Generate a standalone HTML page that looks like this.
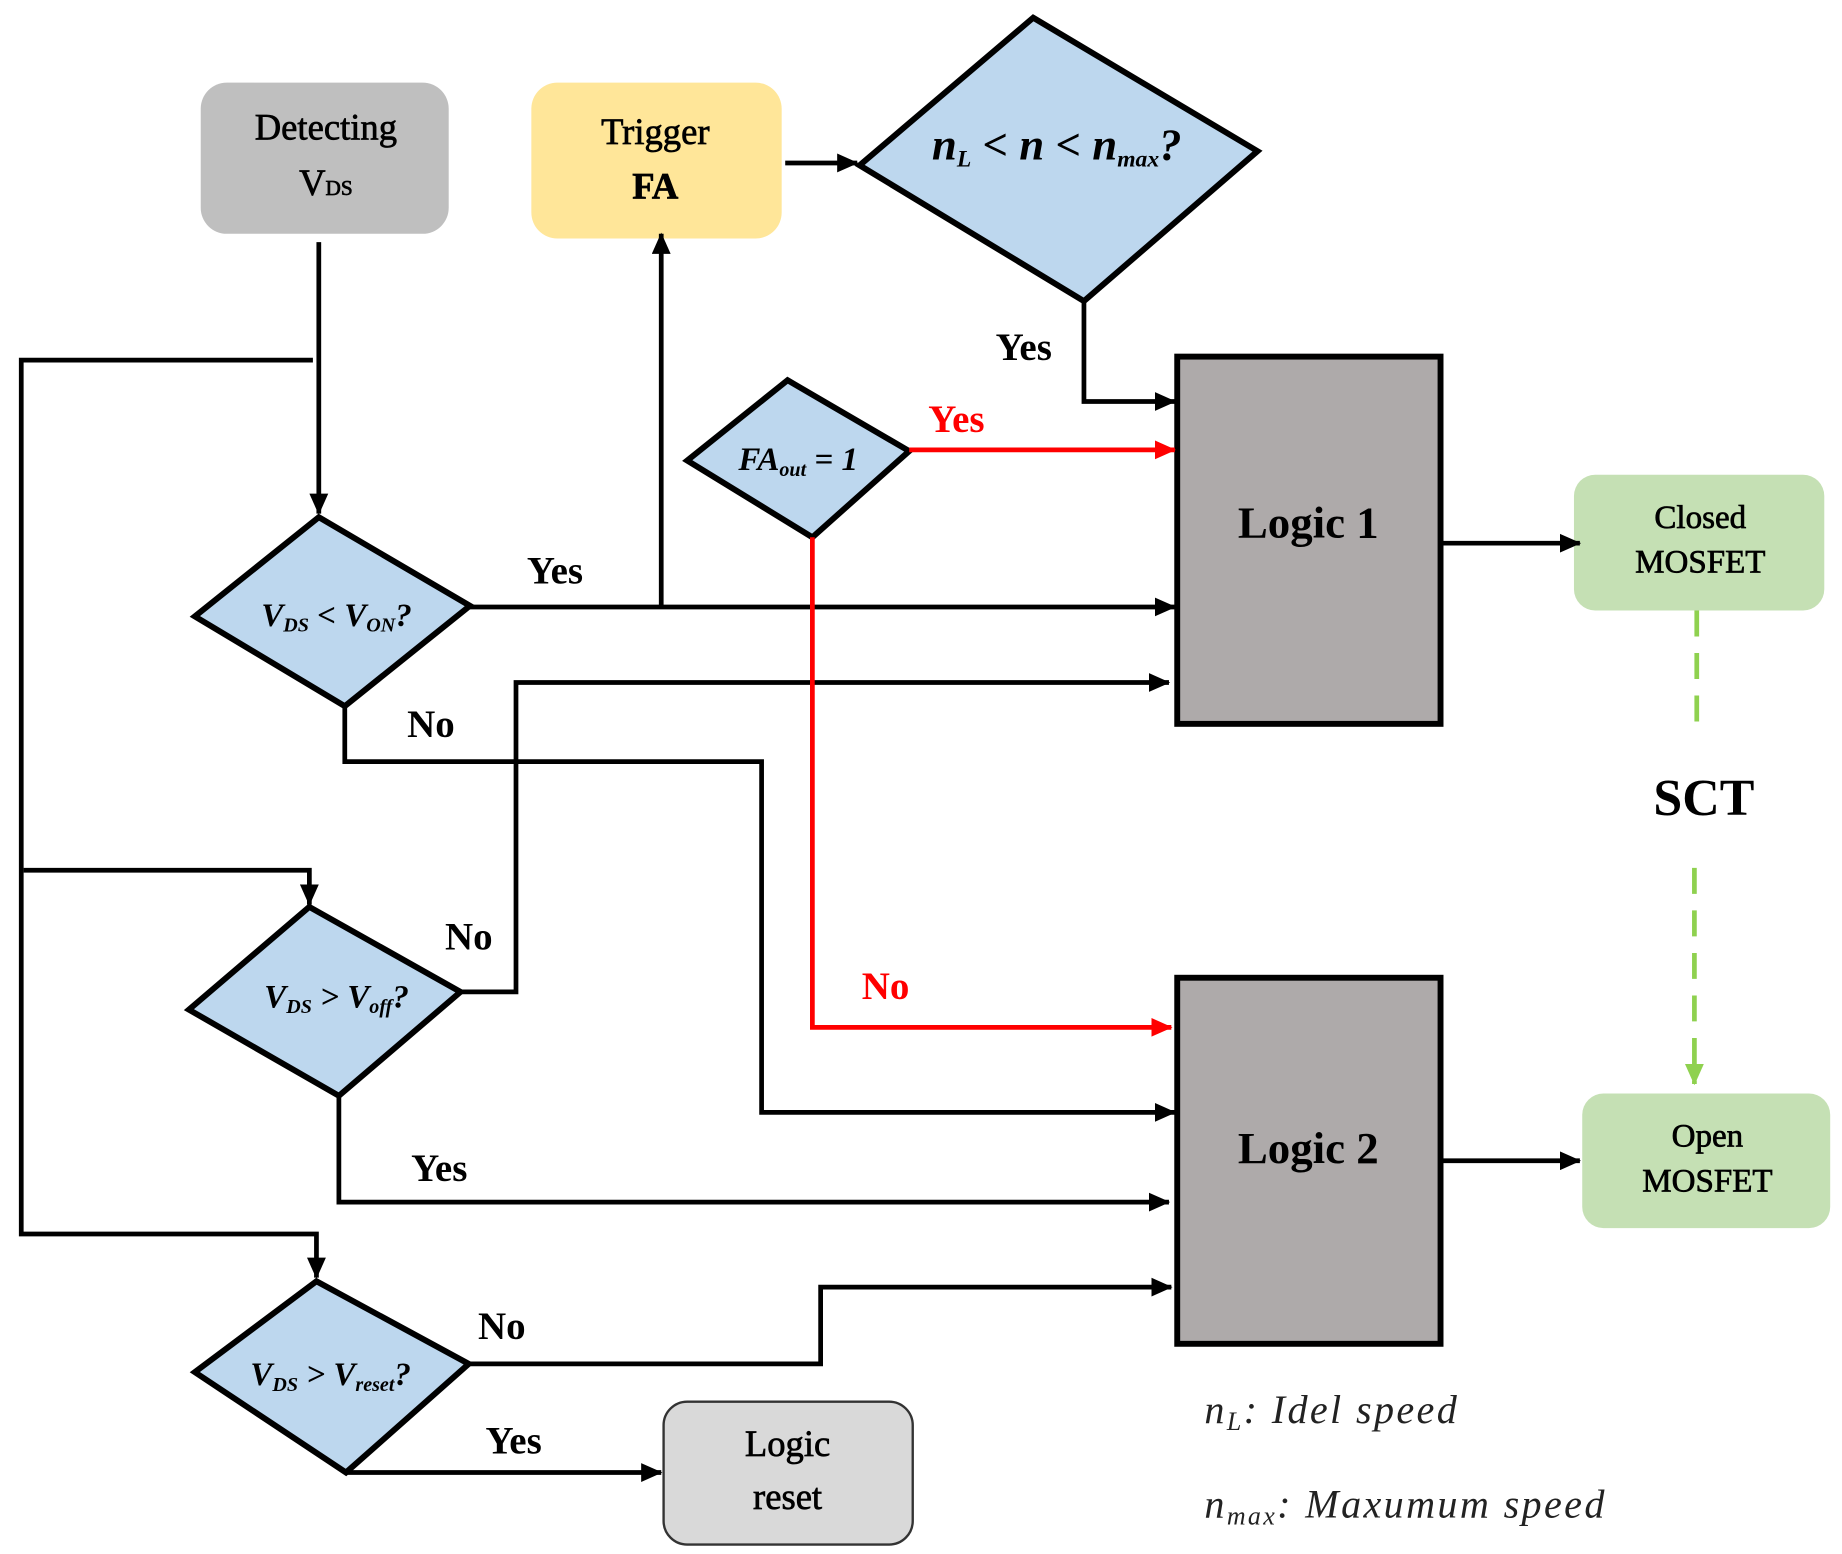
<!DOCTYPE html>
<html><head><style>html,body{margin:0;padding:0;background:#fff}svg{display:block}</style></head>
<body>
<svg width="1842" height="1554" viewBox="0 0 1560 1316" preserveAspectRatio="none" xmlns="http://www.w3.org/2000/svg" font-family="'Liberation Serif',serif">
<defs>
<marker id="ab" markerWidth="18" markerHeight="16" refX="17" refY="8" orient="auto" markerUnits="userSpaceOnUse"><path d="M0,0 L18,8 L0,16 z" fill="#000"/></marker>
<marker id="ar" markerWidth="18" markerHeight="16" refX="17" refY="8" orient="auto" markerUnits="userSpaceOnUse"><path d="M0,0 L18,8 L0,16 z" fill="#f00"/></marker>
<marker id="ag" markerWidth="18" markerHeight="16" refX="17" refY="8" orient="auto" markerUnits="userSpaceOnUse"><path d="M0,0 L18,8 L0,16 z" fill="#8fd14f"/></marker>
</defs>
<rect x="170" y="70" width="210" height="128" rx="22" fill="#bfbfbf"/>
<rect x="450" y="70" width="212" height="132" rx="22" fill="#ffe699"/>
<rect x="1333" y="402" width="212" height="115" rx="18" fill="#c5e0b4"/>
<rect x="1340" y="926" width="210" height="114" rx="18" fill="#c5e0b4"/>
<rect x="562" y="1187" width="211" height="121" rx="20" fill="#d9d9d9" stroke="#333" stroke-width="2"/>
<rect x="997" y="302" width="223" height="311" fill="#aeaaaa" stroke="#000" stroke-width="5"/>
<rect x="997" y="828" width="223" height="310" fill="#aeaaaa" stroke="#000" stroke-width="5"/>
<g fill="#bdd7ee" stroke="#000" stroke-width="5" stroke-linejoin="miter">
<polygon points="875,15 1065,128 918,255 728,140"/>
<polygon points="667,322 770,382 688,455 582,390"/>
<polygon points="270,438 398,513 292,598 165,522"/>
<polygon points="262,768 390,840 287,928 160,855"/>
<polygon points="268,1085 397,1155 293,1247 165,1162"/>
</g>
<g fill="none" stroke="#000" stroke-width="4">
<path d="M665,138 H726" marker-end="url(#ab)"/>
<path d="M918,255 V340 H995" marker-end="url(#ab)"/>
<path d="M1222,460 H1338" marker-end="url(#ab)"/>
<path d="M1222,983 H1338" marker-end="url(#ab)"/>
<path d="M270,205 V435" marker-end="url(#ab)"/>
<path d="M265,305 H18 V1045 H268 V1082" marker-end="url(#ab)"/>
<path d="M20,737 H262 V766" marker-end="url(#ab)"/>
<path d="M398,514 H995" marker-end="url(#ab)"/>
<path d="M560,514 V198" marker-end="url(#ab)"/>
<path d="M292,598 V645 H645 V942 H995" marker-end="url(#ab)"/>
<path d="M390,840 H437 V578 H990" marker-end="url(#ab)"/>
<path d="M287,928 V1018 H990" marker-end="url(#ab)"/>
<path d="M397,1155 H695 V1090 H992" marker-end="url(#ab)"/>
<path d="M293,1247 H560" marker-end="url(#ab)"/>
</g>
<g fill="none" stroke="#f00" stroke-width="4">
<path d="M770,381 H995" marker-end="url(#ar)"/>
<path d="M688,455 V870 H992" marker-end="url(#ar)"/>
</g>
<g fill="none" stroke="#8fd14f" stroke-width="4" stroke-dasharray="22,14">
<path d="M1437,517 V625"/>
<path d="M1435,735 V918" marker-end="url(#ag)"/>
</g>
<g text-anchor="middle" font-size="31" fill="#000" stroke="#000" stroke-width="0.6">
<text x="276" y="118">Detecting</text>
<text x="276" y="165">V<tspan font-size="18">DS</tspan></text>
<text x="555" y="122">Trigger</text>
<text x="555" y="168" font-weight="bold">FA</text>
<text x="1440" y="447" font-size="28">Closed</text>
<text x="1440" y="485" font-size="28">MOSFET</text>
<text x="1446" y="971" font-size="28">Open</text>
<text x="1446" y="1009" font-size="28">MOSFET</text>
<text x="667" y="1233">Logic</text>
<text x="667" y="1278">reset</text>
</g>
<g text-anchor="middle" font-weight="bold">
<text x="1108" y="455" font-size="38">Logic 1</text>
<text x="1108" y="985" font-size="38">Logic 2</text>
<text x="1443" y="690" font-size="44">SCT</text>
</g>
<g font-weight="bold" font-style="italic" text-anchor="middle">
<text x="895" y="135" font-size="38">n<tspan font-size="20" dy="6">L</tspan><tspan dy="-6"> &lt; n &lt; n</tspan><tspan font-size="20" dy="6">max</tspan><tspan dy="-6">?</tspan></text>
<text x="676" y="398" font-size="28">FA<tspan font-size="17" dy="5">out</tspan><tspan dy="-5"> = 1</tspan></text>
<text x="285" y="530" font-size="28">V<tspan font-size="17" dy="5">DS</tspan><tspan dy="-5"> &lt; V</tspan><tspan font-size="17" dy="5">ON</tspan><tspan dy="-5">?</tspan></text>
<text x="285" y="853" font-size="28">V<tspan font-size="17" dy="5">DS</tspan><tspan dy="-5"> &gt; V</tspan><tspan font-size="17" dy="5">off</tspan><tspan dy="-5">?</tspan></text>
<text x="280" y="1173" font-size="28">V<tspan font-size="17" dy="5">DS</tspan><tspan dy="-5"> &gt; V</tspan><tspan font-size="17" dy="5">reset</tspan><tspan dy="-5">?</tspan></text>
</g>
<g font-size="33" font-weight="bold" text-anchor="middle">
<text x="867" y="305">Yes</text>
<text x="810" y="366" fill="#f00">Yes</text>
<text x="750" y="846" fill="#f00">No</text>
<text x="470" y="494">Yes</text>
<text x="365" y="624">No</text>
<text x="397" y="804">No</text>
<text x="372" y="1000">Yes</text>
<text x="425" y="1134">No</text>
<text x="435" y="1231">Yes</text>
</g>
<g font-size="34" font-style="italic" fill="#222" letter-spacing="2">
<text x="1020" y="1205">n<tspan font-size="22" dy="6">L</tspan><tspan dy="-6">: Idel speed</tspan></text>
<text x="1020" y="1285">n<tspan font-size="22" dy="6">max</tspan><tspan dy="-6">: Maxumum speed</tspan></text>
</g>
</svg>
</body></html>
